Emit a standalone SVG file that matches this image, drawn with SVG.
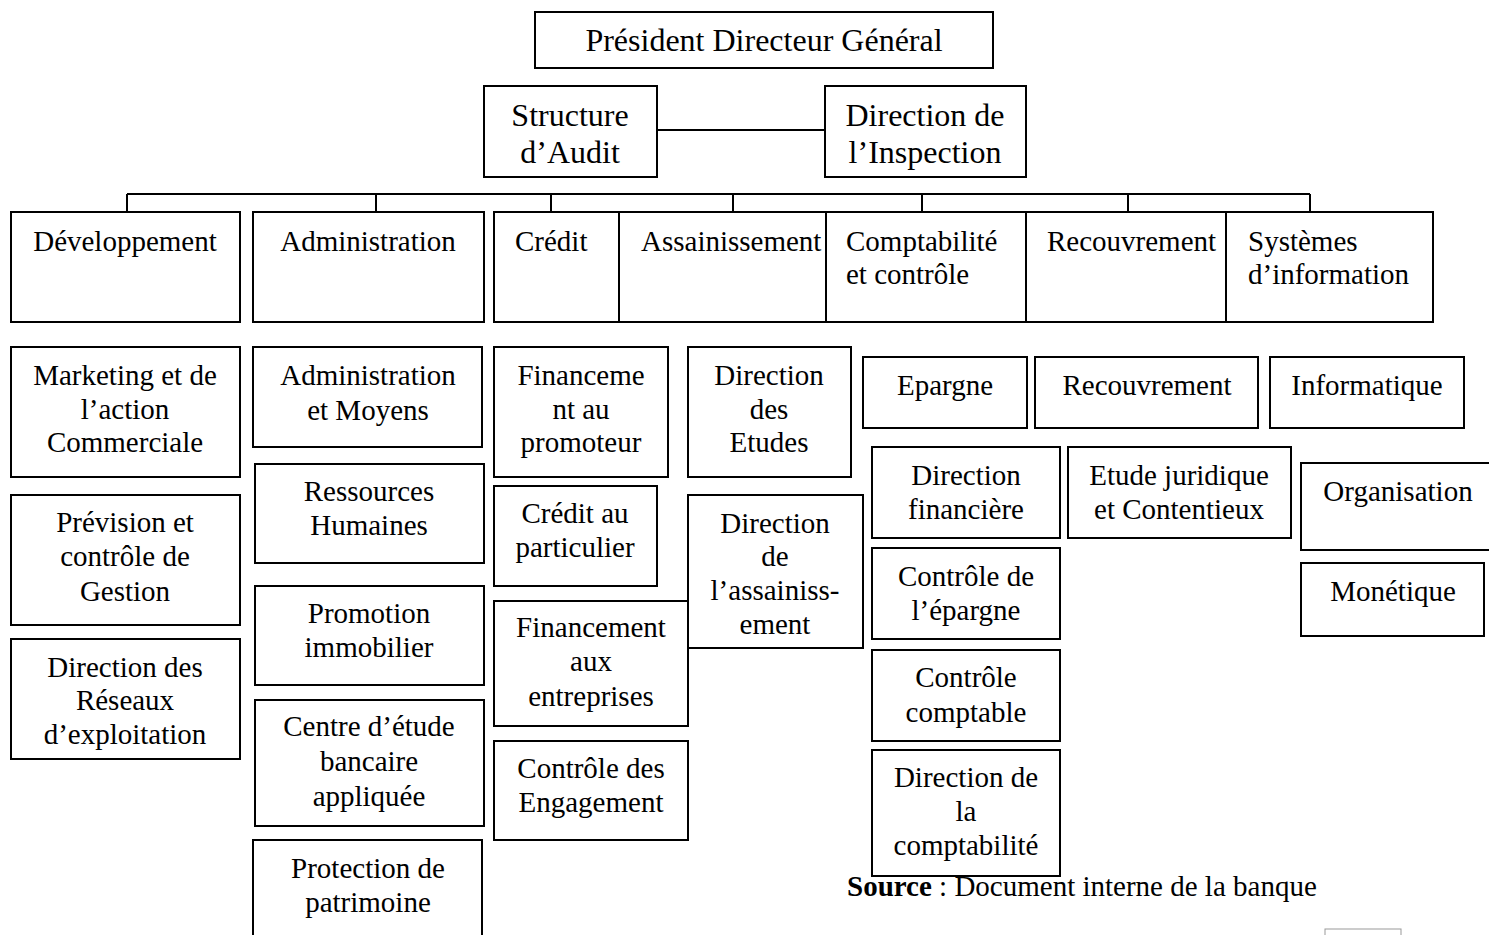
<svg xmlns="http://www.w3.org/2000/svg" width="1489" height="935" viewBox="0 0 1489 935">
<style>
rect.b{fill:#fff;stroke:#000;stroke-width:2}
text{font-family:"Liberation Serif","Times New Roman",serif;font-size:29px;fill:#000}
text.c{text-anchor:middle}
text.t{font-size:32px}
.cn line{stroke:#000;stroke-width:2}
</style>
<rect width="1489" height="935" fill="#fff"/>
<g class="cn" id="connectors">
<line x1="657" y1="130" x2="825" y2="130"/>
<line x1="127" y1="194" x2="1310" y2="194"/>
<line x1="127" y1="194" x2="127" y2="212"/>
<line x1="376" y1="194" x2="376" y2="212"/>
<line x1="551" y1="194" x2="551" y2="212"/>
<line x1="733" y1="194" x2="733" y2="212"/>
<line x1="922" y1="194" x2="922" y2="212"/>
<line x1="1128" y1="194" x2="1128" y2="212"/>
<line x1="1310" y1="194" x2="1310" y2="212"/>
</g>
<g id="pdg"><rect class="b" x="535" y="12" width="458" height="56"/><text class="c t" x="764" y="51">Président Directeur Général</text></g>
<g id="audit"><rect class="b" x="484" y="86" width="173" height="91"/><text class="c t" x="570" y="126">Structure</text><text class="c t" x="570" y="163">d’Audit</text></g>
<g id="inspection"><rect class="b" x="825" y="86" width="201" height="91"/><text class="c t" x="925" y="126">Direction de</text><text class="c t" x="925" y="163">l’Inspection</text></g>

<g id="developpement"><rect class="b" x="11" y="212" width="229" height="110"/><text class="c" x="125" y="251">Développement</text></g>
<g id="administration"><rect class="b" x="253" y="212" width="231" height="110"/><text class="c" x="368" y="251">Administration</text></g>
<g id="credit"><rect class="b" x="494" y="212" width="125" height="110"/><text x="515" y="251">Crédit</text></g>
<g id="assainissement"><rect class="b" x="619" y="212" width="231" height="110"/><text x="641" y="251">Assainissement</text></g>
<g id="comptabilite"><rect class="b" x="826" y="212" width="224" height="110"/><text x="846" y="251">Comptabilité</text><text x="846" y="284">et contrôle</text></g>
<g id="recouvrement"><rect class="b" x="1026" y="212" width="214" height="110"/><text x="1047" y="251">Recouvrement</text></g>
<g id="systemes"><rect class="b" x="1226" y="212" width="207" height="110"/><text x="1248" y="251">Systèmes</text><text x="1248" y="284">d’information</text></g>

<g id="marketing"><rect class="b" x="11" y="347" width="229" height="130"/><text class="c" x="125" y="385">Marketing et de</text><text class="c" x="125" y="419">l’action</text><text class="c" x="125" y="452">Commerciale</text></g>
<g id="prevision"><rect class="b" x="11" y="495" width="229" height="130"/><text class="c" x="125" y="532">Prévision et</text><text class="c" x="125" y="566">contrôle de</text><text class="c" x="125" y="601">Gestion</text></g>
<g id="reseaux"><rect class="b" x="11" y="639" width="229" height="120"/><text class="c" x="125" y="677">Direction des</text><text class="c" x="125" y="710">Réseaux</text><text class="c" x="125" y="744">d’exploitation</text></g>

<g id="adm-moyens"><rect class="b" x="253" y="347" width="229" height="100"/><text class="c" x="368" y="385">Administration</text><text class="c" x="368" y="420">et Moyens</text></g>
<g id="rh"><rect class="b" x="255" y="464" width="229" height="99"/><text class="c" x="369" y="501">Ressources</text><text class="c" x="369" y="535">Humaines</text></g>
<g id="promotion"><rect class="b" x="255" y="586" width="229" height="99"/><text class="c" x="369" y="623">Promotion</text><text class="c" x="369" y="657">immobilier</text></g>
<g id="centre"><rect class="b" x="255" y="700" width="229" height="126"/><text class="c" x="369" y="736">Centre d’étude</text><text class="c" x="369" y="771">bancaire</text><text class="c" x="369" y="806">appliquée</text></g>
<g id="protection"><rect class="b" x="253" y="840" width="229" height="100"/><text class="c" x="368" y="878">Protection de</text><text class="c" x="368" y="912">patrimoine</text></g>

<g id="fin-promoteur"><rect class="b" x="494" y="347" width="174" height="130"/><text class="c" x="581" y="385">Financeme</text><text class="c" x="581" y="419">nt au</text><text class="c" x="581" y="452">promoteur</text></g>
<g id="credit-particulier"><rect class="b" x="494" y="486" width="163" height="100"/><text class="c" x="575" y="523">Crédit au</text><text class="c" x="575" y="557">particulier</text></g>
<g id="fin-entreprises"><rect class="b" x="494" y="601" width="194" height="125"/><text class="c" x="591" y="637">Financement</text><text class="c" x="591" y="671">aux</text><text class="c" x="591" y="706">entreprises</text></g>
<g id="controle-engagement"><rect class="b" x="494" y="741" width="194" height="99"/><text class="c" x="591" y="778">Contrôle des</text><text class="c" x="591" y="812">Engagement</text></g>

<g id="dir-etudes"><rect class="b" x="688" y="347" width="163" height="130"/><text class="c" x="769" y="385">Direction</text><text class="c" x="769" y="419">des</text><text class="c" x="769" y="452">Etudes</text></g>
<g id="dir-assainissement"><rect class="b" x="688" y="495" width="175" height="153"/><text class="c" x="775" y="533">Direction</text><text class="c" x="775" y="566">de</text><text class="c" x="775" y="600">l’assainiss-</text><text class="c" x="775" y="634">ement</text></g>

<g id="epargne"><rect class="b" x="863" y="357" width="164" height="71"/><text class="c" x="945" y="395">Epargne</text></g>
<g id="recouvrement2"><rect class="b" x="1035" y="357" width="223" height="71"/><text class="c" x="1147" y="395">Recouvrement</text></g>
<g id="informatique"><rect class="b" x="1270" y="357" width="194" height="71"/><text class="c" x="1367" y="395">Informatique</text></g>
<g id="dir-financiere"><rect class="b" x="872" y="447" width="188" height="91"/><text class="c" x="966" y="485">Direction</text><text class="c" x="966" y="519">financière</text></g>
<g id="juridique"><rect class="b" x="1068" y="447" width="223" height="91"/><text class="c" x="1179" y="485">Etude juridique</text><text class="c" x="1179" y="519">et Contentieux</text></g>
<g id="organisation"><rect class="b" x="1301" y="463" width="190" height="87"/><text class="c" x="1398" y="501">Organisation</text></g>
<g id="controle-epargne"><rect class="b" x="872" y="548" width="188" height="91"/><text class="c" x="966" y="586">Contrôle de</text><text class="c" x="966" y="620">l’épargne</text></g>
<g id="monetique"><rect class="b" x="1301" y="563" width="183" height="73"/><text class="c" x="1393" y="601">Monétique</text></g>
<g id="controle-comptable"><rect class="b" x="872" y="650" width="188" height="91"/><text class="c" x="966" y="687">Contrôle</text><text class="c" x="966" y="722">comptable</text></g>
<g id="dir-comptabilite"><rect class="b" x="872" y="750" width="188" height="126"/><text class="c" x="966" y="787">Direction de</text><text class="c" x="966" y="821">la</text><text class="c" x="966" y="855">comptabilité</text></g>

<text x="847" y="896"><tspan font-weight="bold">Source</tspan> : Document interne de la banque</text>
<rect x="1325" y="929" width="76" height="20" fill="none" stroke="#999" stroke-width="1"/>
</svg>
